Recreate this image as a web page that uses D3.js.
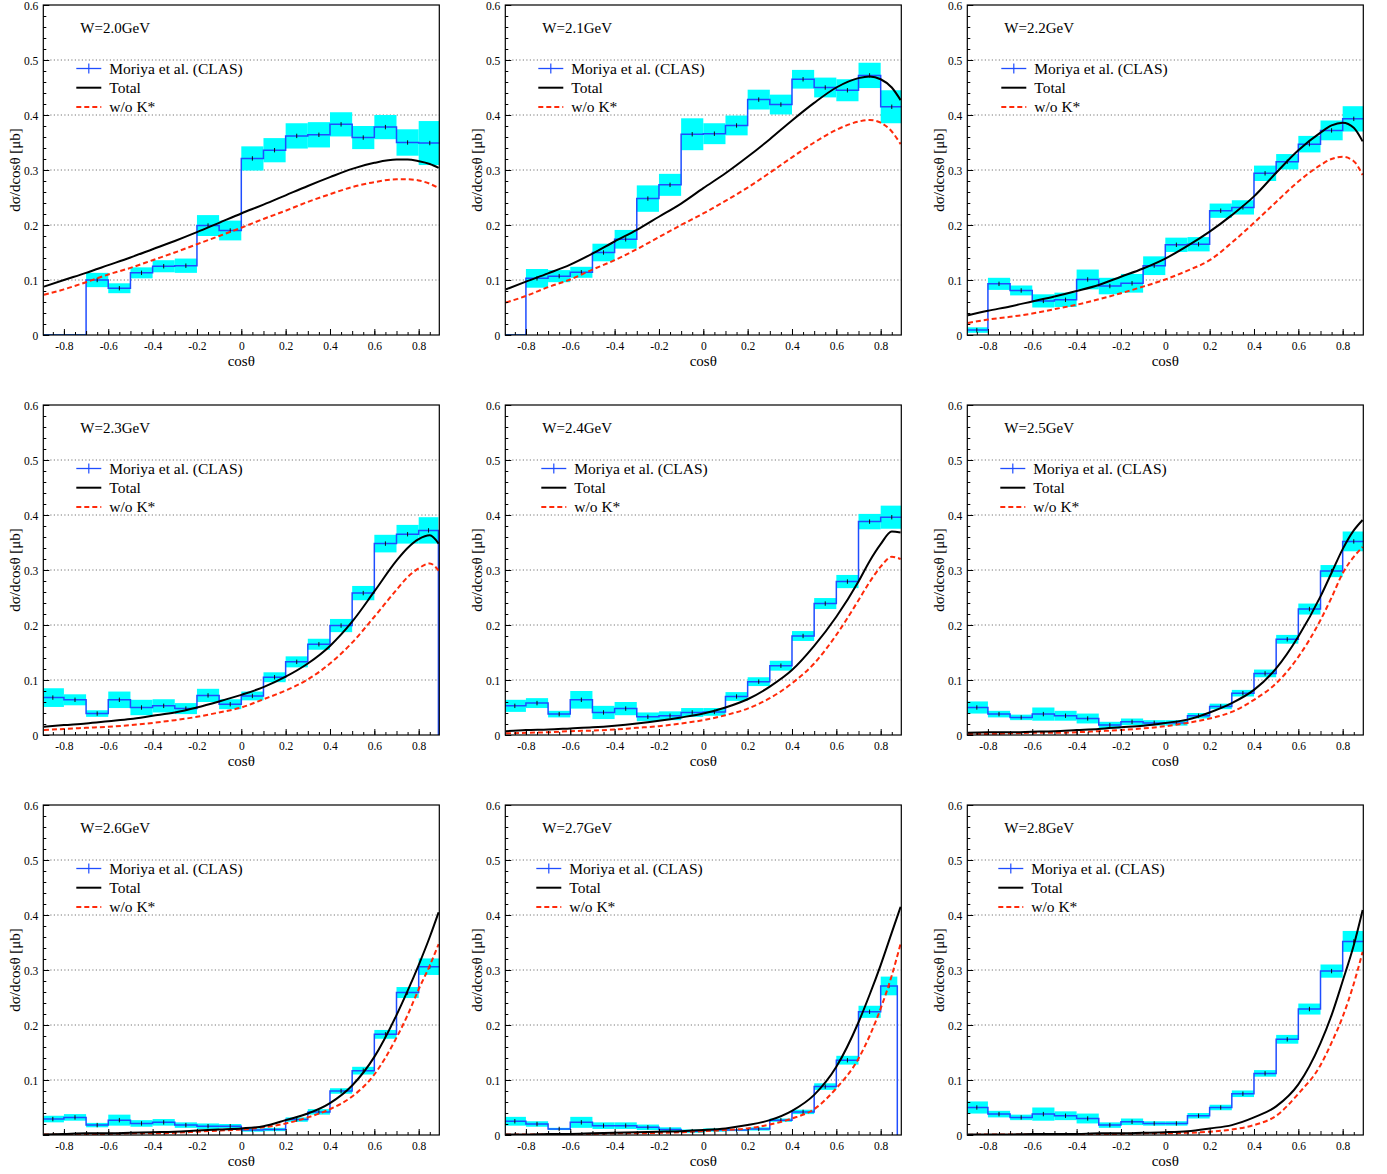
<!DOCTYPE html>
<html>
<head>
<meta charset="utf-8">
<script src="https://cdn.jsdelivr.net/npm/d3@7"></script>
<style>
  body { margin: 0; background: #fff; }
  text { font-family: "Liberation Serif", "Times New Roman", serif; }
</style>
</head>
<body>
<script>

// dsigma/dcos(theta) for 9 W bins, data = Moriya et al. (CLAS)

var energies = ["2.0", "2.1", "2.2", "2.3", "2.4", "2.5", "2.6", "2.7", "2.8"];

// lower edges of the 18 cos(theta) bins
var binLo = [-0.9, -0.8, -0.7, -0.6, -0.5, -0.4, -0.3, -0.2, -0.1,
              0.0, 0.1, 0.2, 0.3, 0.4, 0.5, 0.6, 0.7, 0.8];

// upper edge of last bin (and whether the histogram drops to 0 there)
var lastEdge = [0.9, 0.9, 0.9, 0.889, 0.9, 0.9, 0.9, 0.875, 0.9];
var dropEnd  = [false, false, false, true, false, false, false, true, false];

// cos(theta) where the model curves were read
var curveX = [-0.89, -0.8, -0.7, -0.6, -0.5, -0.4, -0.3, -0.2, -0.1, 0,
              0.1, 0.2, 0.3, 0.4, 0.5, 0.6, 0.7, 0.75, 0.8, 0.85, 0.89];

// CLAS values and systematic errors (cyan boxes)
var clas = [
  [0, 0, 0.100, 0.085, 0.113, 0.125, 0.126, 0.199, 0.190, 0.321, 0.336, 0.362, 0.364, 0.383, 0.359, 0.378, 0.350, 0.349],
  [0, 0.103, 0.107, 0.114, 0.150, 0.174, 0.248, 0.273, 0.365, 0.366, 0.381, 0.428, 0.419, 0.465, 0.450, 0.445, 0.472, 0.415],
  [0.009, 0.093, 0.081, 0.062, 0.064, 0.101, 0.089, 0.094, 0.126, 0.164, 0.165, 0.226, 0.232, 0.294, 0.315, 0.347, 0.372, 0.393],
  [0.068, 0.064, 0.039, 0.064, 0.050, 0.053, 0.048, 0.072, 0.056, 0.071, 0.105, 0.133, 0.165, 0.199, 0.258, 0.348, 0.365, 0.372],
  [0.053, 0.058, 0.038, 0.064, 0.041, 0.048, 0.033, 0.035, 0.041, 0.042, 0.070, 0.097, 0.126, 0.180, 0.239, 0.279, 0.388, 0.396],
  [0.050, 0.038, 0.032, 0.038, 0.035, 0.030, 0.018, 0.024, 0.022, 0.022, 0.035, 0.052, 0.076, 0.112, 0.174, 0.229, 0.298, 0.352],
  [0.029, 0.032, 0.018, 0.027, 0.021, 0.023, 0.018, 0.016, 0.016, 0.009, 0.010, 0.028, 0.042, 0.080, 0.117, 0.183, 0.259, 0.306],
  [0.025, 0.020, 0.011, 0.023, 0.017, 0.017, 0.014, 0.010, 0.007, 0.009, 0.009, 0.011, 0.027, 0.042, 0.088, 0.136, 0.224, 0.271],
  [0.050, 0.038, 0.032, 0.038, 0.035, 0.030, 0.018, 0.024, 0.021, 0.021, 0.035, 0.050, 0.075, 0.112, 0.174, 0.229, 0.298, 0.352]
];

var clasSys = [
  [0, 0, 0.013, 0.009, 0.010, 0.011, 0.013, 0.019, 0.018, 0.022, 0.022, 0.023, 0.023, 0.022, 0.021, 0.022, 0.024, 0.040],
  [0, 0.017, 0.011, 0.010, 0.016, 0.017, 0.024, 0.020, 0.029, 0.019, 0.018, 0.018, 0.018, 0.017, 0.018, 0.020, 0.023, 0.030],
  [0.005, 0.011, 0.009, 0.012, 0.013, 0.018, 0.015, 0.017, 0.017, 0.013, 0.013, 0.013, 0.013, 0.014, 0.014, 0.015, 0.018, 0.023],
  [0.017, 0.010, 0.006, 0.015, 0.014, 0.012, 0.010, 0.012, 0.009, 0.008, 0.009, 0.010, 0.010, 0.012, 0.013, 0.016, 0.017, 0.024],
  [0.011, 0.009, 0.006, 0.016, 0.012, 0.012, 0.008, 0.008, 0.008, 0.007, 0.008, 0.008, 0.009, 0.009, 0.010, 0.012, 0.014, 0.021],
  [0.011, 0.006, 0.005, 0.012, 0.009, 0.009, 0.006, 0.006, 0.005, 0.005, 0.005, 0.005, 0.006, 0.007, 0.008, 0.010, 0.011, 0.018],
  [0.006, 0.006, 0.004, 0.010, 0.006, 0.006, 0.005, 0.005, 0.004, 0.003, 0.003, 0.004, 0.005, 0.005, 0.007, 0.008, 0.010, 0.015],
  [0.008, 0.005, 0.002, 0.010, 0.006, 0.006, 0.005, 0.004, 0.003, 0.003, 0.002, 0.003, 0.003, 0.004, 0.006, 0.008, 0.011, 0.017],
  [0.011, 0.006, 0.005, 0.012, 0.008, 0.009, 0.005, 0.006, 0.004, 0.004, 0.005, 0.005, 0.006, 0.006, 0.008, 0.010, 0.012, 0.019]
];

// statistical error bar half length
var statErr = 0.004;

// model: full result
var total = [
  [0.088, 0.100, 0.113, 0.127, 0.141, 0.156, 0.171, 0.187, 0.204, 0.221, 0.237, 0.254, 0.271, 0.287, 0.302, 0.313, 0.319, 0.319, 0.316, 0.311, 0.304],
  [0.083, 0.097, 0.112, 0.128, 0.148, 0.170, 0.191, 0.215, 0.239, 0.267, 0.294, 0.324, 0.356, 0.390, 0.422, 0.450, 0.467, 0.470, 0.465, 0.450, 0.427],
  [0.036, 0.044, 0.052, 0.061, 0.070, 0.080, 0.091, 0.106, 0.121, 0.139, 0.162, 0.188, 0.218, 0.252, 0.295, 0.336, 0.368, 0.381, 0.386, 0.377, 0.352],
  [0.015, 0.018, 0.021, 0.025, 0.029, 0.035, 0.041, 0.050, 0.061, 0.073, 0.087, 0.106, 0.130, 0.162, 0.206, 0.261, 0.317, 0.340, 0.356, 0.363, 0.348],
  [0.007, 0.009, 0.010, 0.012, 0.014, 0.017, 0.021, 0.026, 0.032, 0.039, 0.050, 0.065, 0.088, 0.118, 0.162, 0.215, 0.279, 0.316, 0.347, 0.370, 0.368],
  [0.004, 0.005, 0.005, 0.006, 0.007, 0.009, 0.011, 0.014, 0.017, 0.022, 0.028, 0.041, 0.058, 0.082, 0.121, 0.179, 0.252, 0.295, 0.338, 0.372, 0.391],
  [0.001, 0.002, 0.003, 0.003, 0.004, 0.005, 0.006, 0.008, 0.010, 0.012, 0.016, 0.027, 0.039, 0.058, 0.090, 0.142, 0.218, 0.262, 0.309, 0.360, 0.405],
  [0.001, 0.001, 0.002, 0.002, 0.003, 0.004, 0.005, 0.006, 0.007, 0.009, 0.012, 0.018, 0.027, 0.044, 0.073, 0.124, 0.205, 0.255, 0.309, 0.368, 0.415],
  [0.001, 0.001, 0.001, 0.002, 0.002, 0.002, 0.003, 0.003, 0.004, 0.005, 0.007, 0.012, 0.018, 0.032, 0.052, 0.092, 0.167, 0.218, 0.280, 0.345, 0.409]
];

// model: without K* exchange
var noKstar = [
  [0.073, 0.083, 0.096, 0.110, 0.122, 0.136, 0.150, 0.165, 0.180, 0.195, 0.211, 0.226, 0.242, 0.256, 0.269, 0.278, 0.283, 0.283, 0.281, 0.275, 0.267],
  [0.059, 0.071, 0.087, 0.101, 0.119, 0.136, 0.156, 0.178, 0.200, 0.221, 0.244, 0.268, 0.295, 0.323, 0.350, 0.373, 0.388, 0.391, 0.386, 0.370, 0.347],
  [0.022, 0.028, 0.033, 0.039, 0.047, 0.055, 0.065, 0.076, 0.088, 0.101, 0.117, 0.136, 0.168, 0.204, 0.242, 0.279, 0.309, 0.320, 0.324, 0.316, 0.291],
  [0.009, 0.011, 0.013, 0.015, 0.018, 0.022, 0.027, 0.033, 0.041, 0.050, 0.065, 0.081, 0.101, 0.130, 0.168, 0.215, 0.264, 0.287, 0.303, 0.312, 0.299],
  [0.003, 0.004, 0.005, 0.007, 0.008, 0.010, 0.013, 0.016, 0.021, 0.027, 0.036, 0.048, 0.067, 0.094, 0.130, 0.182, 0.245, 0.278, 0.306, 0.324, 0.320],
  [0.002, 0.002, 0.003, 0.004, 0.004, 0.005, 0.007, 0.009, 0.012, 0.016, 0.022, 0.030, 0.042, 0.064, 0.094, 0.142, 0.209, 0.250, 0.294, 0.324, 0.342],
  [0.001, 0.001, 0.002, 0.002, 0.003, 0.003, 0.004, 0.006, 0.008, 0.010, 0.014, 0.021, 0.032, 0.047, 0.070, 0.110, 0.177, 0.218, 0.265, 0.308, 0.347],
  [0.001, 0.001, 0.001, 0.002, 0.002, 0.003, 0.003, 0.004, 0.005, 0.007, 0.009, 0.012, 0.019, 0.030, 0.047, 0.085, 0.139, 0.180, 0.230, 0.290, 0.348],
  [0.000, 0.001, 0.001, 0.001, 0.001, 0.001, 0.002, 0.002, 0.003, 0.003, 0.004, 0.006, 0.010, 0.018, 0.035, 0.075, 0.127, 0.168, 0.215, 0.275, 0.333]
];

var yTicks = [0, 0.1, 0.2, 0.3, 0.4, 0.5, 0.6];
var xTicks = [-0.8, -0.6, -0.4, -0.2, 0, 0.2, 0.4, 0.6, 0.8];
var gridY = [0.1, 0.2, 0.3, 0.4, 0.5];
var legendLabels = ["Moriya et al. (CLAS)", "Total", "w/o K*"];

// layout
var svgWidth = 1387, svgHeight = 1174;
var colX = [43.3, 505.3, 967.3];
var rowY = [5, 405, 805];
var pw = 396, ph = 330;
var legendDx = [33, 33, 34, 33, 36, 33, 33, 31, 31];

var dataBlue = "#1f4dff";
var bandCyan = "#00ffff";
var modelRed = "#ff2a0a";

function fmtTick(d) {
    if (Math.abs(d) < 1e-9) return "0";
    return d.toFixed(1);
}

var svg = d3.select("body").append("svg")
    .attr("width", svgWidth)
    .attr("height", svgHeight);

svg.append("rect")
    .attr("width", svgWidth)
    .attr("height", svgHeight)
    .attr("fill", "#fff");

function drawPanel(i) {
    var g = svg.append("g")
        .attr("transform", "translate(" + colX[i % 3] + "," + rowY[Math.floor(i / 3)] + ")");

    var x = d3.scaleLinear().domain([-0.893, 0.893]).range([0, pw]);
    var y = d3.scaleLinear().domain([0, 0.6]).range([ph, 0]);

    var clipId = "clip" + i;
    g.append("clipPath").attr("id", clipId)
        .append("rect").attr("width", pw).attr("height", ph);

    // dotted grid
    g.append("g").selectAll("line")
        .data(gridY)
        .enter()
        .append("line")
        .attr("x1", 0).attr("x2", pw)
        .attr("y1", function(d) { return y(d); })
        .attr("y2", function(d) { return y(d); })
        .attr("stroke", "#666")
        .attr("stroke-width", 0.9)
        .attr("stroke-dasharray", "1.2,2.3");

    var plot = g.append("g").attr("clip-path", "url(#" + clipId + ")");

    var vals = clas[i], sys = clasSys[i];
    var bins = binLo.map(function(lo, k) {
        var hi = (k === binLo.length - 1) ? lastEdge[i] : binLo[k + 1];
        return { lo: lo, hi: hi, v: vals[k], s: sys[k] };
    });

    // systematic boxes
    plot.append("g").selectAll("rect")
        .data(bins)
        .enter()
        .append("rect")
        .attr("x", function(d) { return x(d.lo); })
        .attr("width", function(d) { return x(d.hi) - x(d.lo); })
        .attr("y", function(d) { return y(d.v + d.s) - (d.s === 0 ? 0.8 : 0); })
        .attr("height", function(d) { return Math.max(y(d.v - d.s) - y(d.v + d.s), 1.6); })
        .attr("fill", bandCyan);

    // histogram steps
    var pts = bins.map(function(d) { return [d.lo, d.v]; });
    pts.push([lastEdge[i], vals[vals.length - 1]]);
    if (dropEnd[i]) pts.push([lastEdge[i], 0]);

    plot.append("path")
        .attr("d", d3.line()
            .x(function(d) { return x(d[0]); })
            .y(function(d) { return y(d[1]); })
            .curve(d3.curveStepAfter)(pts))
        .attr("fill", "none")
        .attr("stroke", dataBlue)
        .attr("stroke-width", 1.5);

    // statistical bars
    plot.append("g").selectAll("line")
        .data(bins.filter(function(d) { return d.v > 0; }))
        .enter()
        .append("line")
        .attr("x1", function(d) { return x((d.lo + d.hi) / 2); })
        .attr("x2", function(d) { return x((d.lo + d.hi) / 2); })
        .attr("y1", function(d) { return y(d.v - statErr); })
        .attr("y2", function(d) { return y(d.v + statErr); })
        .attr("stroke", "#111")
        .attr("stroke-width", 1);

    // model curves
    var curve = d3.line()
        .x(function(d, k) { return x(curveX[k]); })
        .y(function(d) { return y(d); })
        .curve(d3.curveMonotoneX);

    plot.append("path")
        .attr("d", curve(noKstar[i]))
        .attr("fill", "none")
        .attr("stroke", modelRed)
        .attr("stroke-width", 2)
        .attr("stroke-dasharray", "5,3");

    plot.append("path")
        .attr("d", curve(total[i]))
        .attr("fill", "none")
        .attr("stroke", "#000")
        .attr("stroke-width", 2);

    // axes, ticks inside the frame
    var yMajor = d3.axisLeft(y).tickValues(yTicks).tickSize(-6).tickSizeOuter(0).tickPadding(5)
        .tickFormat(function(d) { return (i === 6 && d === 0) ? "" : fmtTick(d); });
    var yMinor = d3.axisLeft(y).tickValues(d3.range(0, 0.601, 0.02)).tickSize(-3).tickSizeOuter(0).tickFormat("");
    var xMajor = d3.axisBottom(x).tickValues(xTicks).tickSize(-6).tickSizeOuter(0).tickPadding(7)
        .tickFormat(fmtTick);
    var xMid = d3.axisBottom(x).tickValues(d3.range(-0.8, 0.81, 0.1)).tickSize(-4).tickSizeOuter(0).tickFormat("");
    var xMinor = d3.axisBottom(x).tickValues(d3.range(-0.85, 0.86, 0.1)).tickSize(-3).tickSizeOuter(0).tickFormat("");

    [yMinor, yMajor].forEach(function(ax) {
        var a = g.append("g").call(ax);
        a.select(".domain").remove();
        a.selectAll("text").attr("font-size", 11.5).attr("dy", "0.42em").attr("fill", "#000");
    });
    [xMinor, xMid, xMajor].forEach(function(ax) {
        var a = g.append("g").attr("transform", "translate(0," + ph + ")").call(ax);
        a.select(".domain").remove();
        a.selectAll("text").attr("font-size", 11.5).attr("fill", "#000");
    });

    // frame
    g.append("rect")
        .attr("width", pw)
        .attr("height", ph)
        .attr("fill", "none")
        .attr("stroke", "#000")
        .attr("stroke-width", 1.2);

    // titles
    g.append("text")
        .attr("x", 37).attr("y", 28)
        .attr("font-size", 15)
        .text("W=" + energies[i] + "GeV");

    g.append("text")
        .attr("transform", "translate(-23," + (ph / 2) + ") rotate(-90)")
        .attr("text-anchor", "middle")
        .attr("font-size", 15)
        .text("dσ/dcosθ [μb]");

    g.append("text")
        .attr("x", x(0)).attr("y", ph + 31)
        .attr("text-anchor", "middle")
        .attr("font-size", 15)
        .text("cosθ");

    // legend
    var lx = legendDx[i];
    var leg = g.append("g").selectAll("g")
        .data(legendLabels)
        .enter()
        .append("g")
        .attr("transform", function(d, k) { return "translate(" + lx + "," + (63.5 + k * 19.2) + ")"; });

    leg.append("line")
        .attr("x1", 0).attr("x2", 25)
        .attr("stroke", function(d, k) { return k === 0 ? dataBlue : (k === 1 ? "#000" : modelRed); })
        .attr("stroke-width", function(d, k) { return k === 0 ? 1.3 : 2; })
        .attr("stroke-dasharray", function(d, k) { return k === 2 ? "5,3" : null; });

    leg.filter(function(d, k) { return k === 0; })
        .append("line")
        .attr("x1", 12.5).attr("x2", 12.5)
        .attr("y1", -5).attr("y2", 5)
        .attr("stroke", dataBlue)
        .attr("stroke-width", 1.2);

    leg.append("text")
        .attr("x", 33)
        .attr("dy", "0.35em")
        .attr("font-size", 15.5)
        .text(function(d) { return d; });
}

for (var p = 0; p < energies.length; p++) {
    drawPanel(p);
}

</script>
</body>
</html>
